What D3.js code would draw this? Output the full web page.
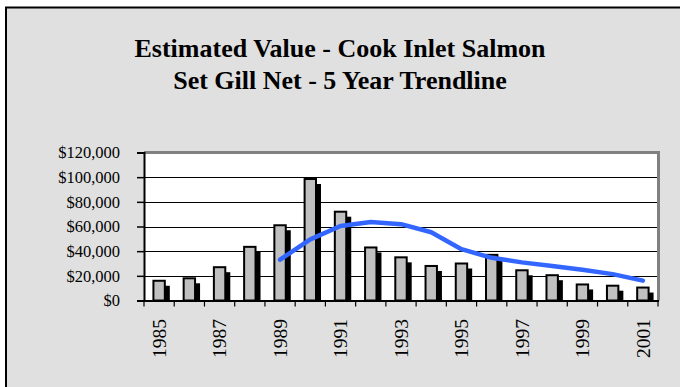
<!DOCTYPE html>
<html>
<head>
<meta charset="utf-8">
<script src="https://cdn.jsdelivr.net/npm/d3@7"></script>
<style>
html,body{margin:0;padding:0;background:#ffffff;}
svg{display:block;}
</style>
</head>
<body>
<svg id="chart" width="680" height="387"></svg>
<script>
const years = ["1985","1986","1987","1988","1989","1990","1991","1992","1993","1994","1995","1996","1997","1998","1999","2000","2001"];
const values = [16000,18000,27000,43500,61000,98500,72000,43000,35000,28000,30000,37000,24500,20500,13000,12000,10500];
const trendYears = ["1989","1990","1991","1992","1993","1994","1995","1996","1997","1998","1999","2000","2001"];
const trendValues = [33100,49600,60400,63600,61900,55300,41600,34600,30900,28000,25000,21400,16100];
const yTicks = [0,20000,40000,60000,80000,100000,120000];
const xLabelYears = ["1985","1987","1989","1991","1993","1995","1997","1999","2001"];
const titleLines = ["Estimated Value - Cook Inlet Salmon","Set Gill Net - 5 Year Trendline"];

(function(){
const svg = d3.select("#chart");
const font = "'Liberation Serif','Times New Roman',serif";

// outer frame
svg.append("rect").attr("x",6).attr("y",7.5).attr("width",700).attr("height",400)
  .attr("fill","#e0e0e0").attr("stroke","#000").attr("stroke-width",2);

// title
svg.selectAll("text.title").data(titleLines).enter().append("text")
  .attr("class","title")
  .attr("x",340).attr("y",(d,i)=>57+i*32)
  .attr("text-anchor","middle")
  .attr("font-family",font).attr("font-weight","bold").attr("font-size",26)
  .attr("fill","#000").text(d=>d);

const pLeft=144, pRight=658, pTop=152.5, pBottom=300.5;
const x = d3.scaleBand().domain(years).range([pLeft,pRight]).padding(0);
const y = d3.scaleLinear().domain([0,120000]).range([pBottom,pTop]);

// plot area
svg.append("rect").attr("x",pLeft).attr("y",pTop).attr("width",pRight-pLeft).attr("height",pBottom-pTop)
  .attr("fill","#fff");

// gridlines
svg.append("g").selectAll("line").data(yTicks.filter(d=>d>0)).enter().append("line")
  .attr("x1",pLeft).attr("x2",pRight)
  .attr("y1",d=>Math.round(y(d))+0.5).attr("y2",d=>Math.round(y(d))+0.5)
  .attr("stroke","#000").attr("stroke-width",1.2);

// plot border (grey top/right)
svg.append("path")
  .attr("d",`M${pLeft},${pTop} L${pRight+0.5},${pTop} L${pRight+0.5},${pBottom}`)
  .attr("fill","none").attr("stroke","#808080").attr("stroke-width",3);

// bars
const bw = 11.4;
const bars = svg.append("g");
bars.selectAll("rect.shadow").data(years).enter().append("rect")
  .attr("class","shadow")
  .attr("x",(d)=>x(d)+x.bandwidth()/2-bw/2+5)
  .attr("y",(d,i)=>y(values[i])+5)
  .attr("width",bw)
  .attr("height",(d,i)=>Math.max(0,pBottom-y(values[i])-5))
  .attr("fill","#000");
bars.selectAll("rect.bar").data(years).enter().append("rect")
  .attr("class","bar")
  .attr("x",(d)=>x(d)+x.bandwidth()/2-bw/2)
  .attr("y",(d,i)=>y(values[i]))
  .attr("width",bw)
  .attr("height",(d,i)=>pBottom-y(values[i]))
  .attr("fill","#c0c0c0").attr("stroke","#000").attr("stroke-width",2);

// trend line
const line = d3.line().x(d=>x(d[0])+x.bandwidth()/2).y(d=>y(d[1]));
svg.append("path")
  .datum(trendYears.map((d,i)=>[d,trendValues[i]]))
  .attr("d",line)
  .attr("fill","none").attr("stroke","#3366ff").attr("stroke-width",4.5)
  .attr("stroke-linecap","round").attr("stroke-linejoin","round");

// y axis
const yAxis = d3.axisLeft(y).tickValues(yTicks).tickSize(7).tickPadding(17)
  .tickFormat(d=>"$"+d3.format(",")(d));
const gy = svg.append("g").attr("transform",`translate(${pLeft},0)`).call(yAxis);
gy.select(".domain").attr("stroke","#000").attr("stroke-width",2);
gy.selectAll(".tick line").attr("stroke","#000").attr("stroke-width",1.5);
gy.selectAll(".tick text").attr("font-family",font).attr("font-size",16.5).attr("fill","#000");

// x axis
const ticksX = years.map(d=>x(d)).concat([pRight]);
const gx = svg.append("g");
gx.append("line").attr("x1",pLeft).attr("x2",pRight+1).attr("y1",pBottom+0.5).attr("y2",pBottom+0.5)
  .attr("stroke","#000").attr("stroke-width",2);
gx.selectAll("line.tk").data(ticksX).enter().append("line").attr("class","tk")
  .attr("x1",d=>d).attr("x2",d=>d).attr("y1",pBottom).attr("y2",pBottom+6)
  .attr("stroke","#000").attr("stroke-width",1.2);
gx.selectAll("text").data(xLabelYears).enter().append("text")
  .attr("transform",d=>`translate(${x(d)+x.bandwidth()/2},319) rotate(-90)`)
  .attr("text-anchor","end").attr("dy","0.34em")
  .attr("font-family",font).attr("font-size",19.5).attr("fill","#000")
  .text(d=>d);
})();
</script>
</body>
</html>
